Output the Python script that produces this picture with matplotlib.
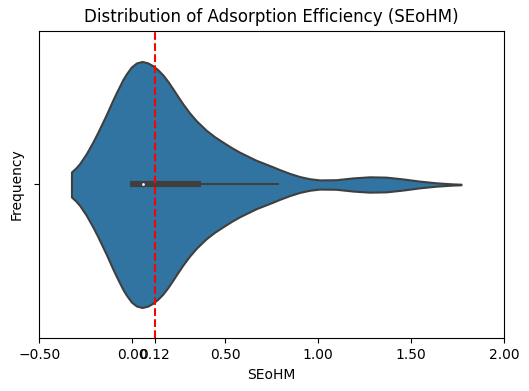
import numpy as np
import matplotlib
matplotlib.use("Agg")
import matplotlib.pyplot as plt

# violin outline: SEoHM position and half width (px)
seohm_grid = [-0.327, -0.304, -0.283, -0.247, -0.211, -0.185, -0.158, -0.140,
              -0.104, -0.085, -0.050, -0.032, -0.005, 0.022, 0.053, 0.083,
              0.111, 0.138, 0.165, 0.192, 0.219, 0.246, 0.273, 0.309,
              0.345, 0.398, 0.443, 0.488, 0.533, 0.577, 0.667, 0.756,
              0.792, 0.846, 0.900, 0.954, 1.008, 1.097, 1.187, 1.276,
              1.366, 1.456, 1.545, 1.635, 1.724, 1.769]
half_width = [12.6, 16.5, 21, 31, 43, 52.5, 63, 70,
              85, 92.5, 105.5, 111, 118, 122, 123.6, 122.2,
              119.3, 115.2, 110, 103.5, 96, 88.3, 80.8, 71.8,
              64, 54.5, 48, 42.5, 37.2, 32.5, 24.3, 17.8,
              15, 11.2, 8, 5.8, 4.6, 4.8, 6.6, 7.7,
              7.4, 5.6, 3.4, 1.7, 0.6, 0.3]

# inner box stats
q1, median, q3 = -0.014, 0.057, 0.371
whisker_lo, whisker_hi = -0.014, 0.792
ref_line = 0.12

xticks = [-0.5, 0.0, 0.12, 0.5, 1.0, 1.5, 2.0]

fill = "#3274a1"
gray = "#3f3f3f"
lw = 1.5

fig = plt.figure(figsize=(5.29, 3.91), dpi=100)
ax = fig.add_axes([0.0743, 0.1348, 0.8784, 0.7867])

x = np.array(seohm_grid)
hw = np.array(half_width)
hw = hw / hw.max() * 0.4   # width 0.8 like seaborn

ax.fill_between(x, -hw, hw, facecolor=fill, edgecolor=gray, linewidth=lw, zorder=1)

# box inside the violin
ax.plot([whisker_lo, whisker_hi], [0, 0], color=gray, linewidth=lw, solid_capstyle="butt", zorder=2)
ax.plot([q1, q3], [0, 0], color=gray, linewidth=lw * 3, solid_capstyle="butt", zorder=2)
ax.scatter([median], [0], color="white", edgecolor=gray, s=(lw * 2) ** 2, zorder=3)

ax.axvline(ref_line, color="red", linestyle="--", linewidth=1.5, zorder=4)

ax.set_ylim(0.5, -0.5)
ax.set_xlim(-0.5, 2.0)
ax.set_yticks([0])
ax.set_yticklabels([""])
ax.set_xticks(xticks)
ax.set_xticklabels([f"{t:.2f}".replace("-", "\u2212") for t in xticks])

ax.set_title("Distribution of Adsorption Efficiency (SEoHM)")
ax.set_xlabel("SEoHM")
ax.set_ylabel("Frequency")

fig.savefig("out.png", dpi=100)
